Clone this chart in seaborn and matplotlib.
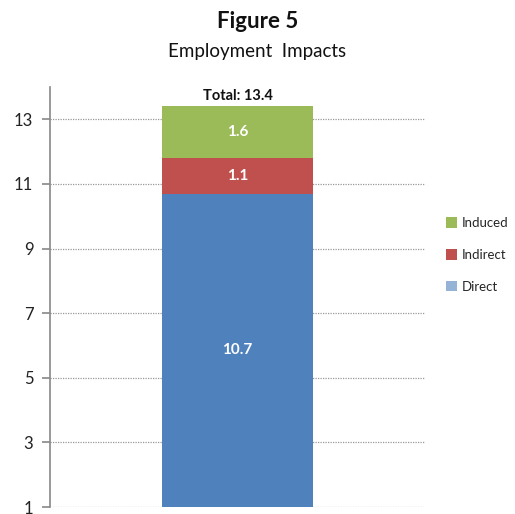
import matplotlib
matplotlib.use("Agg")
import matplotlib.pyplot as plt
import seaborn as sns
import pandas as pd
from matplotlib.patches import Patch

categories = ["Direct", "Indirect", "Induced"]
values = [10.7, 1.1, 1.6]
bar_colors = ["#4F81BD", "#C0504D", "#9BBB59"]
legend_colors = ["#95B3D7", "#C0504D", "#9BBB59"]
yticks = [1, 3, 5, 7, 9, 11, 13]

sns.set_theme(style="white")
plt.rcParams["font.family"] = ["Lato", "DejaVu Sans"]

fig = plt.figure(figsize=(5.15, 5.14), dpi=100)
ax = fig.add_axes([50/515, 7/514, 375/515, 420/514])

cum = []
s = 0
for v in values:
    s += v
    cum.append(s)
total = cum[-1]

# draw stacked bars from top (largest cumulative) to bottom
for i in reversed(range(len(values))):
    df = pd.DataFrame({"x": ["Employment"], "y": [cum[i]]})
    sns.barplot(data=df, x="x", y="y", color=bar_colors[i], saturation=1,
                width=0.405, ax=ax, zorder=3, linewidth=0)

ax.set_ylim(1, 14)
ax.set_xlim(-0.5, 0.5)
ax.set_yticks(yticks)
ax.set_yticklabels([str(t) for t in yticks], fontsize=12, color="#222222")
ax.set_xticks([])
ax.set_xlabel("")
ax.set_ylabel("")
for t in yticks:
    ax.axhline(t, color="#999999", linestyle=(0, (1, 1)), linewidth=0.9, zorder=1)

for sp in ["top", "right", "bottom"]:
    ax.spines[sp].set_visible(False)
ax.spines["left"].set_color("#888888")
ax.spines["left"].set_linewidth(1.2)
ax.tick_params(axis="y", length=6, width=1.2, color="#888888", left=True, pad=6)

# segment labels
bottom = 0
for i, v in enumerate(values):
    lo = max(bottom, 1)
    mid = (lo + bottom + v) / 2
    ax.text(0, mid, f"{v:.1f}", ha="center", va="center", color="white",
            fontsize=11, fontweight="bold", zorder=5)
    bottom += v
ax.text(0, total + 0.12, f"Total: {total:.1f}", ha="center", va="bottom",
        fontsize=10.5, fontweight="bold", color="#111111")

handles = [Patch(facecolor=legend_colors[i], edgecolor="none", label=categories[i])
           for i in reversed(range(len(categories)))]
fig.legend(handles=handles, loc="center left", bbox_to_anchor=(446/515, 1 - 255/514),
           frameon=False, fontsize=9.5, handlelength=0.85, handleheight=0.85,
           handletextpad=0.35, labelspacing=1.5, borderpad=0, borderaxespad=0)

fig.text(0.5, 1 - 22/514, "Figure 5", ha="center", va="center", fontsize=16,
         fontweight="bold", color="#111111")
fig.text(0.5, 1 - 52/514, "Employment  Impacts", ha="center", va="center",
         fontsize=13.5, color="#111111")

fig.savefig("out.png", dpi=100)
